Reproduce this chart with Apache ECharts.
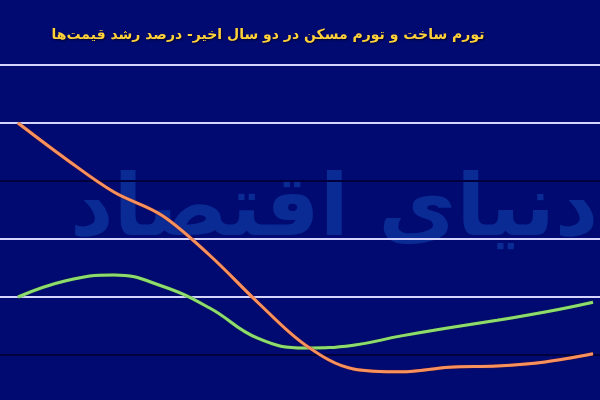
<!DOCTYPE html>
<html><head><meta charset="utf-8">
<script src="https://cdn.jsdelivr.net/npm/echarts@6/dist/echarts.min.js"></script>
<style>html,body{margin:0;padding:0;background:#000a70;overflow:hidden}#c{width:600px;height:413px}</style>
</head><body><div id="c"></div>
<script>
const titleText = 'تورم ساخت و تورم مسکن در دو سال اخیر- درصد رشد قیمت‌ها';
const watermark = 'دنیای اقتصاد';
const periods = ['1','2','3','4','5','6','7','8','9','10','11','12','13'];
const housing = [40.0, 33.8, 28.1, 24.1, 17.2, 9.1, 1.7, -2.4, -2.9, -2.1, -1.9, -1.2, 0.2];
const construction = [10.0, 12.8, 13.8, 11.9, 8.1, 2.9, 1.2, 1.7, 3.3, 4.7, 6.0, 7.4, 9.1];
const yTicks = [-10, 0, 10, 20, 30, 40, 50];

const chart = echarts.init(document.getElementById('c'));
chart.setOption({
  backgroundColor: '#000a70',
  animation: false,
  title: {
    text: titleText, left: 263, top: 23, textAlign: 'center',
    textStyle: { color: '#ffd23a', fontSize: 14, fontWeight: 'bold', fontFamily: 'DejaVu Sans',
      textShadowColor: '#000030', textShadowBlur: 2, textShadowOffsetX: 1, textShadowOffsetY: 1 }
  },
  graphic: [{
    type: 'text', left: 70, top: 170, z: -10, silent: true,
    style: { text: watermark, fill: '#0a2a94', font: 'bold 85px "DejaVu Sans"' }
  }],
  grid: { left: 0, right: 0, top: 65, bottom: 0, containLabel: false },
  xAxis: {
    type: 'value', min: -0.376, max: 12.146, show: false, splitLine: { show: false }
  },
  yAxis: {
    type: 'value', min: yTicks[0], max: yTicks[yTicks.length - 1], interval: 10,
    axisLine: { show: false }, axisTick: { show: false }, axisLabel: { show: false },
    splitLine: { show: true, lineStyle: { color: ['#d4d4ff', '#00003c', '#d4d4ff'], width: 2 } }
  },
  series: [
    { type: 'line', smooth: 0.45, symbol: 'none', z: 3,
      data: construction.map((v, i) => [i, v]),
      lineStyle: { color: '#8fdc6e', width: 3, shadowColor: '#1c4a20', shadowBlur: 1 } },
    { type: 'line', smooth: 0.35, symbol: 'none', z: 4,
      data: housing.map((v, i) => [i, v]),
      lineStyle: { color: '#f7925e', width: 3, shadowColor: '#8a2010', shadowBlur: 1 } }
  ]
});
</script></body></html>
